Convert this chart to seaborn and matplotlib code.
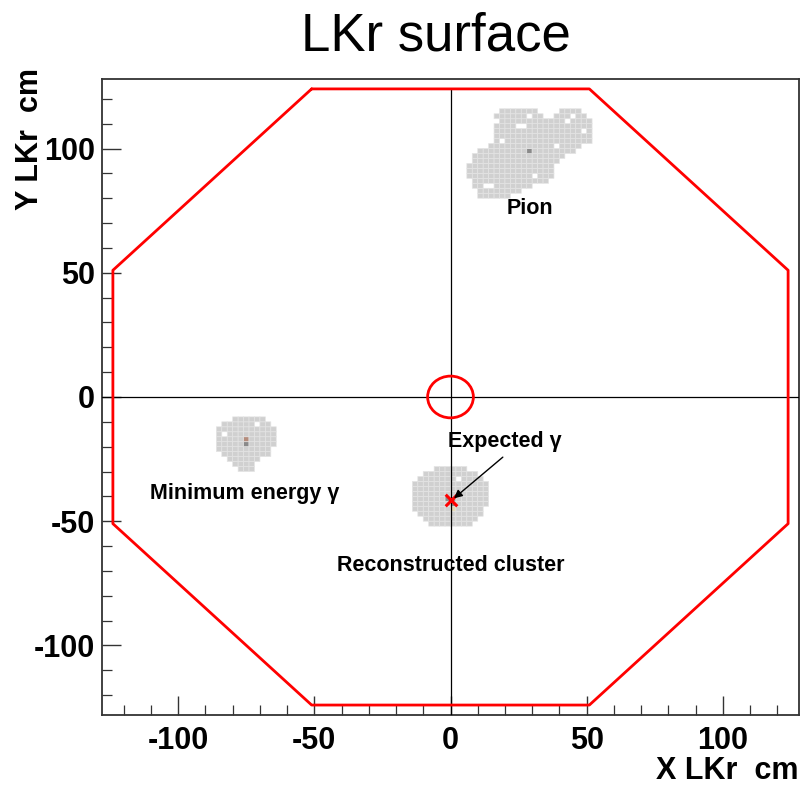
import numpy as np
import matplotlib
matplotlib.use("Agg")
import matplotlib.pyplot as plt
import seaborn as sns
from matplotlib.colors import ListedColormap
from matplotlib.patches import Circle

# LKr outline (cm)
octagon_x = [-51, 51, 124, 124, 51, -51, -124, -124, -51]
octagon_y = [124, 124, 51, -51, -124, -124, -51, 51, 124]
beam_hole_r = 8.4
axis_line_top = 124

# cluster cells, 2 cm wide: row lower edge -> runs of (x_from, x_to)
pion_rows = {
    114: [(18, 32), (40, 48)],
    112: [(16, 34), (38, 50)],
    110: [(16, 52)],
    108: [(16, 52)],
    106: [(16, 52)],
    104: [(16, 52)],
    102: [(16, 52)],
    100: [(14, 48)],
    98: [(10, 46)],
    96: [(8, 42)],
    94: [(8, 40)],
    92: [(6, 38)],
    90: [(6, 38)],
    88: [(6, 38)],
    86: [(8, 36)],
    84: [(8, 30)],
    82: [(10, 26)],
    80: [(10, 22)],
}
pion_holes = [(16, 110), (24, 108), (26, 108), (18, 102), (28, 112),
              (44, 112), (42, 110), (48, 106), (38, 100), (30, 88),
              (12, 84), (14, 84)]
pion_hot = [(28, 98, 2)]

mingamma_rows = {
    -10: [(-80, -68)],
    -12: [(-84, -66)],
    -14: [(-86, -64)],
    -16: [(-86, -64)],
    -18: [(-86, -64)],
    -20: [(-86, -64)],
    -22: [(-86, -66)],
    -24: [(-84, -66)],
    -26: [(-82, -68)],
    -28: [(-80, -70)],
    -30: [(-78, -72)],
}
mingamma_holes = [(-72, -12), (-84, -16), (-70, -26), (-72, -28)]
mingamma_hot = [(-76, -18, 3), (-76, -20, 2)]

reco_rows = {
    -30: [(-6, 6)],
    -32: [(-10, 10)],
    -34: [(-12, 12)],
    -36: [(-14, 14)],
    -38: [(-14, 14)],
    -40: [(-14, 14)],
    -42: [(-14, 14)],
    -44: [(-14, 14)],
    -46: [(-14, 12)],
    -48: [(-12, 12)],
    -50: [(-10, 10)],
    -52: [(-8, 8)],
}
reco_holes = [(2, -34)]
reco_hot = [(0, -42, 2), (-2, -42, 2), (0, -44, 2), (0, -46, 4)]

expected_x = [0]
expected_y = [-41.5]

labels = ["Pion", "Minimum energy γ", "Expected γ", "Reconstructed cluster"]
label_x = [29, -75.5, 20, 0]
label_y = [76, -38.7, -18, -68]

# build cell grid
edges = np.arange(-128, 129, 2)
grid = np.zeros((len(edges) - 1, len(edges) - 1))


def idx(v):
    return int((v + 128) // 2)


for rows, holes, hot in [(pion_rows, pion_holes, pion_hot),
                         (mingamma_rows, mingamma_holes, mingamma_hot),
                         (reco_rows, reco_holes, reco_hot)]:
    for y, runs in rows.items():
        for x0, x1 in runs:
            grid[idx(y), idx(x0):idx(x1)] = 1
    for x, y in holes:
        grid[idx(y), idx(x)] = 0
    for x, y, c in hot:
        grid[idx(y), idx(x)] = c

sns.set_style("white")
plt.rcParams['font.family'] = ['Liberation Sans', 'DejaVu Sans']
plt.rcParams['axes.unicode_minus'] = False
plt.rcParams['text.color'] = 'black'
plt.rcParams['axes.labelcolor'] = 'black'
plt.rcParams['xtick.color'] = 'black'
plt.rcParams['ytick.color'] = 'black'

fig = plt.figure(figsize=(8, 7.85), dpi=100)
ax = fig.add_axes([0.1275, 0.0892, 0.87125, 0.8102])

cmap = ListedColormap(['#d0d0d0', '#8a8a8a', '#b48c7c', '#e4dab4'])
ax.pcolor(edges, edges, np.ma.masked_equal(grid, 0), cmap=cmap,
          vmin=0.5, vmax=4.5, edgecolors='#e4e4e4', linewidth=0.5)

ax.axhline(0, color='black', lw=0.9, zorder=3)
ax.axvline(0, ymax=(axis_line_top + 128) / 256, color='black', lw=0.9, zorder=3)

sns.lineplot(x=octagon_x, y=octagon_y, sort=False, estimator=None,
             color='red', lw=2, ax=ax, zorder=4)
ax.add_patch(Circle((0, 0), beam_hole_r, fill=False, ec='red', lw=2, zorder=4))

ax.scatter(expected_x, expected_y, marker='x', color='red', s=70,
           linewidths=2.2, zorder=5)
ax.annotate("", xy=(expected_x[0] + 0.5, expected_y[0]), xytext=(20, -23.5),
            arrowprops=dict(arrowstyle='-|>', color='black', lw=1,
                            mutation_scale=12), zorder=6)

for t, x, y in zip(labels, label_x, label_y):
    ax.text(x, y, t, fontsize=15.5, fontweight='bold', ha='center',
            va='center', color='black', zorder=6)

ax.set_xlim(-128, 128)
ax.set_ylim(-128, 128)
ax.set_xticks([-100, -50, 0, 50, 100])
ax.set_yticks([-100, -50, 0, 50, 100])
ax.set_xticks(np.arange(-120, 121, 10), minor=True)
ax.set_yticks(np.arange(-120, 121, 10), minor=True)
ax.tick_params(which='both', direction='in', top=False, right=False,
               bottom=True, left=True, color='#333333', labelcolor='black')
ax.tick_params(which='major', length=14, width=1, labelsize=22)
ax.tick_params(which='minor', length=7, width=0.9)
ax.tick_params(axis='x', which='major', pad=8)
ax.tick_params(axis='y', which='major', pad=5)
for lab in ax.get_xticklabels() + ax.get_yticklabels():
    lab.set_fontweight('bold')
for s in ax.spines.values():
    s.set_color('#333333')
    s.set_linewidth(1.3)

ax.set_xlabel("X LKr  cm", fontsize=22, fontweight='bold', loc='right',
              labelpad=0, color='black')
ax.set_ylabel("Y LKr  cm", fontsize=22, fontweight='bold', loc='top',
              color='black')
ax.yaxis.set_label_coords(-0.082, 1.017)

fig.text(0.545, 0.954, "LKr surface", fontsize=38, ha='center', va='center',
         color='black')

fig.savefig("out.png", dpi=100)
